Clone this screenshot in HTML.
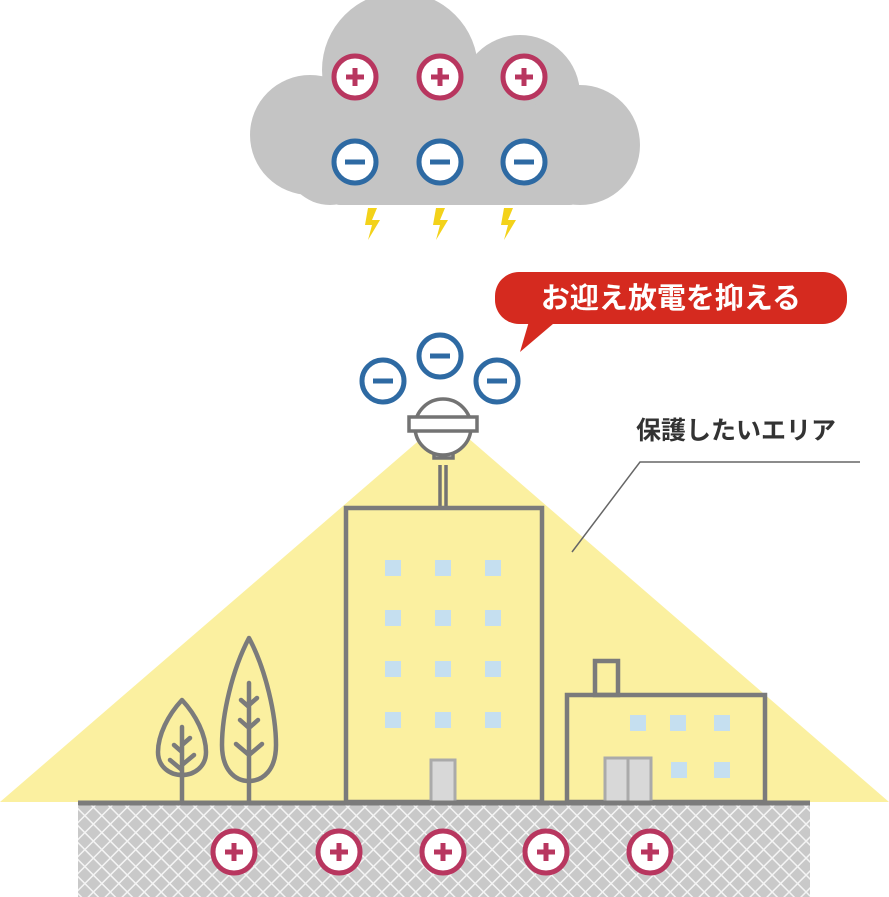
<!DOCTYPE html>
<html><head><meta charset="utf-8"><style>
html,body{margin:0;padding:0;background:#fff;}
svg{display:block;}
text{font-family:"Liberation Sans","Noto Sans CJK JP",sans-serif;}
</style></head><body>
<svg width="889" height="897" viewBox="0 0 889 897" xmlns="http://www.w3.org/2000/svg">
<defs>
<pattern id="hatch" width="12" height="12" patternUnits="userSpaceOnUse" patternTransform="rotate(45)">
<rect width="12" height="12" fill="#c9c9c9"/>
<line x1="0" y1="0" x2="12" y2="0" stroke="#f4f4f4" stroke-width="3"/>
<line x1="0" y1="0" x2="0" y2="12" stroke="#f4f4f4" stroke-width="3"/>
</pattern>
<g id="plus"><circle r="21" fill="#fff" stroke="#b8365f" stroke-width="5"/><path d="M-9 0H9M0 -9V9" stroke="#b8365f" stroke-width="5"/></g>
<g id="minus"><circle r="21" fill="#fff" stroke="#2e6aa3" stroke-width="5"/><path d="M-10 0H10" stroke="#2e6aa3" stroke-width="5"/></g>
<path id="bolt" d="M-4 0 L5 0 L0 12 L8 12 L-4 32 L0 17 L-7 17 Z" fill="#f3d21a"/>
</defs>
<polygon points="0,802 445,418 889,802" fill="#fbf0a0"/>
<g fill="#c4c4c4">
<circle cx="400" cy="70" r="78"/>
<circle cx="520" cy="95" r="60"/>
<circle cx="580" cy="145" r="60"/>
<circle cx="310" cy="135" r="60"/>
<circle cx="330" cy="160" r="45"/>
<rect x="330" y="110" width="250" height="95" rx="10"/>
</g>
<use href="#plus" x="355" y="77"/><use href="#plus" x="440" y="77"/><use href="#plus" x="524" y="77"/>
<use href="#minus" x="355" y="162"/><use href="#minus" x="440" y="162"/><use href="#minus" x="524" y="162"/>
<use href="#bolt" x="372" y="208"/><use href="#bolt" x="440" y="208"/><use href="#bolt" x="508" y="208"/>
<rect x="495" y="272" width="352" height="52" rx="24" fill="#d52a1f"/>
<polygon points="530,318 560,318 520,352" fill="#d52a1f"/>
<text x="671" y="308" font-size="29" font-weight="bold" fill="#fff" text-anchor="middle">お迎え放電を抑える</text>
<text x="636" y="439" font-size="25" font-weight="bold" fill="#333">保護したいエリア</text>
<polyline points="860,462 640,462 572,552" fill="none" stroke="#666" stroke-width="1.5"/>
<use href="#minus" x="383" y="381"/><use href="#minus" x="440" y="356"/><use href="#minus" x="497" y="381"/>
<g stroke="#737373" stroke-width="3.5" fill="#fff">
<line x1="440" y1="465" x2="440" y2="507"/><line x1="446" y1="465" x2="446" y2="507"/>
<rect x="434" y="450" width="19" height="8"/>
<circle cx="443" cy="427" r="28"/>
<rect x="409" y="417" width="68" height="14"/>
</g>
<rect x="346" y="508" width="196" height="294" fill="none" stroke="#7b7b7b" stroke-width="4.5"/>
<g fill="#c5dff0">
<rect x="385" y="560" width="16" height="16"/><rect x="435" y="560" width="16" height="16"/><rect x="485" y="560" width="16" height="16"/>
<rect x="385" y="610" width="16" height="16"/><rect x="435" y="610" width="16" height="16"/><rect x="485" y="610" width="16" height="16"/>
<rect x="385" y="661" width="16" height="16"/><rect x="435" y="661" width="16" height="16"/><rect x="485" y="661" width="16" height="16"/>
<rect x="385" y="712" width="16" height="16"/><rect x="435" y="712" width="16" height="16"/><rect x="485" y="712" width="16" height="16"/>
<rect x="630" y="715" width="16" height="16"/><rect x="670" y="715" width="16" height="16"/><rect x="714" y="715" width="16" height="16"/>
<rect x="671" y="762" width="16" height="16"/><rect x="714" y="762" width="16" height="16"/>
</g>
<rect x="431" y="760" width="24" height="42" fill="#d8d8d8" stroke="#aaa" stroke-width="3"/>
<rect x="595" y="661" width="23" height="34" fill="none" stroke="#7b7b7b" stroke-width="4.5"/>
<rect x="567" y="695" width="198" height="107" fill="none" stroke="#7b7b7b" stroke-width="4.5"/>
<rect x="605" y="758" width="46" height="44" fill="#d8d8d8" stroke="#aaa" stroke-width="3"/>
<line x1="628" y1="758" x2="628" y2="802" stroke="#aaa" stroke-width="3"/>
<g fill="none" stroke="#7b7b7b" stroke-width="4.5" stroke-linecap="round" stroke-linejoin="round">
<path d="M182 700 C168 715 158 735 158 752 C158 767 170 775 182 775 C194 775 206 767 206 752 C206 735 196 715 182 700 Z"/>
<path d="M182 727 V802 M174 745 L182 752 M190 738 L182 745 M170 760 L182 770 M194 755 L182 765"/>
<path d="M249 638 C232 670 222 715 222 745 C222 770 235 781 249 781 C263 781 276 770 276 745 C276 715 266 670 249 638 Z"/>
<path d="M249 683 V802 M241 700 L249 707 M257 698 L249 705 M240 720 L249 728 M258 720 L249 728 M236 744 L249 755 M262 744 L249 755"/>
</g>
<rect x="78" y="804" width="732" height="93" fill="url(#hatch)"/>
<line x1="78" y1="803" x2="810" y2="803" stroke="#7b7b7b" stroke-width="5"/>
<use href="#plus" x="234" y="852"/><use href="#plus" x="339" y="852"/><use href="#plus" x="443" y="852"/><use href="#plus" x="546" y="852"/><use href="#plus" x="650" y="852"/>
</svg>
</body></html>
